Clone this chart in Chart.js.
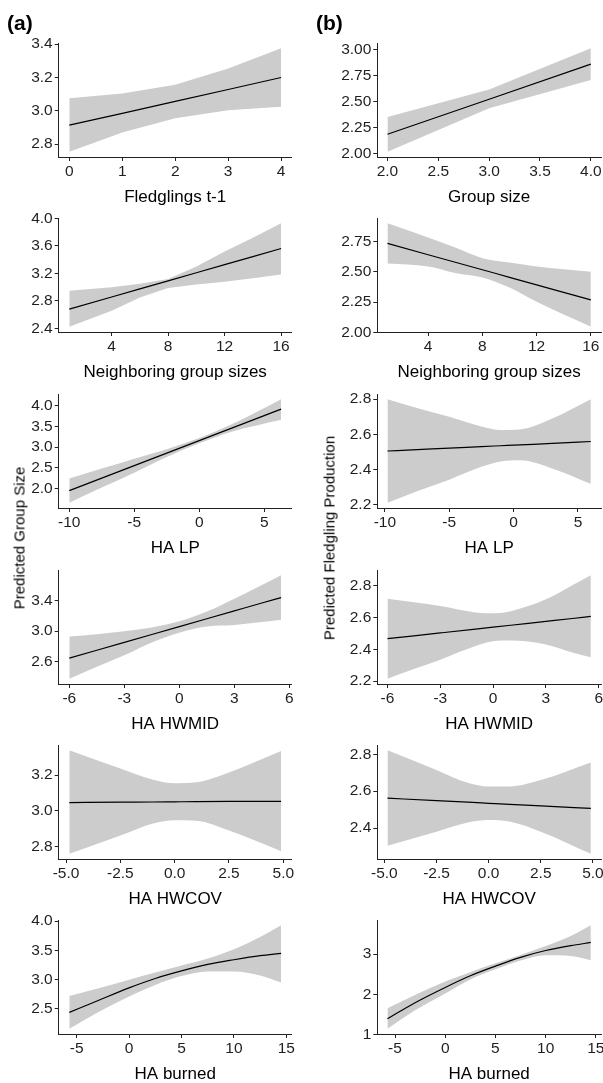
<!DOCTYPE html>
<html>
<head>
<meta charset="utf-8">
<script src="https://cdn.jsdelivr.net/npm/chart.js@4"></script>
<style>
  html, body { margin: 0; padding: 0; background: #fff; overflow: hidden; }
  #page { position: absolute; left: 0; top: 0; width: 603px; height: 1083px; }
  canvas { position: absolute; }
  .tag { position: absolute; font: bold 21px "Liberation Sans", Arial, sans-serif; line-height: 1; color: #000; }
  .ylab { position: absolute; font: 15px "Liberation Sans", Arial, sans-serif; color: #000; white-space: nowrap;
          transform: translate(-50%, -50%) rotate(-90deg); }
</style>
</head>
<body>
<div id="page"></div>
<script>
// (a) predicted group size
const a1X = [0, 1, 2, 3, 4];
const a1Fit = [2.914, 2.985, 3.057, 3.128, 3.2];
const a1Lo = [2.754, 2.87, 2.956, 3.004, 3.024];
const a1Hi = [3.076, 3.104, 3.156, 3.254, 3.376];
const a1XTicks = ['0', '1', '2', '3', '4'];
const a1YTicks = ['2.8', '3.0', '3.2', '3.4'];

const a2X = [1, 4, 6, 8, 10, 12, 14, 16];
const a2Fit = [2.681, 2.858, 2.975, 3.093, 3.211, 3.329, 3.446, 3.564];
const a2Lo = [2.424, 2.657, 2.85, 2.99, 3.04, 3.08, 3.13, 3.185];
const a2Hi = [2.948, 3.0, 3.05, 3.12, 3.3, 3.52, 3.72, 3.932];
const a2XTicks = ['4', '8', '12', '16'];
const a2YTicks = ['2.4', '2.8', '3.2', '3.6', '4.0'];

const a3X = [-10, -7.5, -5, -2.5, 0, 2.5, 6.3];
const a3Fit = [1.944, 2.247, 2.55, 2.853, 3.156, 3.459, 3.92];
const a3Lo = [1.65, 2.02, 2.38, 2.76, 3.09, 3.37, 3.66];
const a3Hi = [2.24, 2.48, 2.72, 2.95, 3.22, 3.55, 4.16];
const a3XTicks = ['-10', '-5', '0', '5'];
const a3YTicks = ['2.0', '2.5', '3.0', '3.5', '4.0'];

const a4X = [-6, -4.5, -3, -1.5, 0, 1.5, 3, 4.5, 5.55];
const a4Fit = [2.644, 2.748, 2.852, 2.956, 3.06, 3.164, 3.268, 3.372, 3.444];
const a4Lo = [2.37, 2.53, 2.68, 2.85, 2.98, 3.06, 3.08, 3.12, 3.15];
const a4Hi = [2.93, 2.96, 3.0, 3.05, 3.13, 3.26, 3.43, 3.61, 3.74];
const a4XTicks = ['-6', '-3', '0', '3', '6'];
const a4YTicks = ['2.6', '3.0', '3.4'];

const a5X = [-4.85, -2.5, -1, 0, 1, 2.5, 4.9];
const a5Fit = [3.047, 3.049, 3.05, 3.051, 3.052, 3.053, 3.054];
const a5Lo = [2.76, 2.862, 2.93, 2.948, 2.945, 2.89, 2.775];
const a5Hi = [3.34, 3.238, 3.175, 3.155, 3.16, 3.215, 3.335];
const a5XTicks = ['-5.0', '-2.5', '0.0', '2.5', '5.0'];
const a5YTicks = ['2.8', '3.0', '3.2'];

const a6X = [-5.7, -3, 0, 2.5, 5, 7.5, 10, 12.5, 14.5];
const a6Fit = [2.44, 2.64, 2.86, 3.02, 3.15, 3.26, 3.34, 3.41, 3.45];
const a6Lo = [2.16, 2.44, 2.71, 2.91, 3.06, 3.14, 3.14, 3.07, 2.95];
const a6Hi = [2.72, 2.85, 3.0, 3.12, 3.24, 3.36, 3.52, 3.73, 3.93];
const a6XTicks = ['-5', '0', '5', '10', '15'];
const a6YTicks = ['2.5', '3.0', '3.5', '4.0'];

// (b) predicted fledgling production
const b1X = [2, 3, 4];
const b1Fit = [2.184, 2.52, 2.857];
const b1Lo = [2.016, 2.435, 2.705];
const b1Hi = [2.349, 2.613, 3.01];
const b1XTicks = ['2.0', '2.5', '3.0', '3.5', '4.0'];
const b1YTicks = ['2.00', '2.25', '2.50', '2.75', '3.00'];

const b2X = [1, 4, 6, 8, 10, 12, 16];
const b2Fit = [2.734, 2.641, 2.579, 2.517, 2.455, 2.393, 2.269];
const b2Lo = [2.569, 2.544, 2.49, 2.453, 2.37, 2.253, 2.047];
const b2Hi = [2.901, 2.783, 2.70, 2.613, 2.577, 2.544, 2.5];
const b2XTicks = ['4', '8', '12', '16'];
const b2YTicks = ['2.00', '2.25', '2.50', '2.75'];

const b3X = [-9.8, -7.5, -5, -2.5, -1, 0.5, 3, 6];
const b3Fit = [2.505, 2.513, 2.521, 2.53, 2.535, 2.54, 2.548, 2.559];
const b3Lo = [2.21, 2.276, 2.342, 2.415, 2.445, 2.452, 2.406, 2.318];
const b3Hi = [2.8, 2.75, 2.7, 2.645, 2.625, 2.628, 2.69, 2.8];
const b3XTicks = ['-10', '-5', '0', '5'];
const b3YTicks = ['2.2', '2.4', '2.6', '2.8'];

const b4X = [-6, -4.5, -3, -1, 0, 1, 3, 4.5, 5.55];
const b4Fit = [2.466, 2.484, 2.502, 2.526, 2.538, 2.55, 2.574, 2.592, 2.606];
const b4Lo = [2.215, 2.276, 2.335, 2.42, 2.45, 2.455, 2.43, 2.38, 2.35];
const b4Hi = [2.716, 2.693, 2.67, 2.63, 2.625, 2.638, 2.712, 2.8, 2.863];
const b4XTicks = ['-6', '-3', '0', '3', '6'];
const b4YTicks = ['2.2', '2.4', '2.6', '2.8'];

const b5X = [-4.85, -2.5, -1, 0, 1, 2.5, 4.9];
const b5Fit = [2.562, 2.548, 2.54, 2.534, 2.528, 2.52, 2.506];
const b5Lo = [2.304, 2.38, 2.43, 2.443, 2.435, 2.38, 2.26];
const b5Hi = [2.822, 2.715, 2.645, 2.625, 2.625, 2.66, 2.755];
const b5XTicks = ['-5.0', '-2.5', '0.0', '2.5', '5.0'];
const b5YTicks = ['2.4', '2.6', '2.8'];

const b6X = [-5.75, -3, 0, 2.5, 5, 7.5, 10, 12.5, 14.5];
const b6Fit = [1.39, 1.79, 2.17, 2.46, 2.7, 2.92, 3.09, 3.21, 3.29];
const b6Lo = [1.14, 1.6, 2.02, 2.37, 2.62, 2.84, 2.97, 2.95, 2.85];
const b6Hi = [1.65, 1.98, 2.32, 2.55, 2.77, 2.98, 3.2, 3.45, 3.72];
const b6XTicks = ['-5', '0', '5', '10', '15'];
const b6YTicks = ['1', '2', '3'];

const rowTitles = ['Neighboring group sizes', 'HA LP', 'HA HWMID', 'HA HWCOV', 'HA burned'];

// Layout
const ROW_TOP = [43, 218.3, 394.3, 570, 745, 920];
const PLOT_H = 114.5;
const PAD_TOP = 14;
const XAXIS_H = 51;
const COLS = [
  { left: 0, width: 300, plotLeft: 58.7, plotRight: 291.7 },
  { left: 300, width: 316, plotLeft: 377.3, plotRight: 601 }
];
const FONT = '"Liberation Sans", Arial, sans-serif';
const BAND = '#cccccc';
const AXIS = '#222222';

// ggplot default expansion of 5% each side
function expand(vals) {
  const lo = Math.min(...vals), hi = Math.max(...vals);
  const d = (hi - lo) * 0.05;
  return [lo - d, hi + d];
}

const panels = [
  { col: 0, row: 0, title: 'Fledglings t-1', x: a1X, fit: a1Fit, lo: a1Lo, hi: a1Hi, xt: a1XTicks, yt: a1YTicks, smooth: false },
  { col: 1, row: 0, title: 'Group size', x: b1X, fit: b1Fit, lo: b1Lo, hi: b1Hi, xt: b1XTicks, yt: b1YTicks, smooth: false },
  { col: 0, row: 1, title: rowTitles[0], x: a2X, fit: a2Fit, lo: a2Lo, hi: a2Hi, xt: a2XTicks, yt: a2YTicks, smooth: false },
  { col: 1, row: 1, title: rowTitles[0], x: b2X, fit: b2Fit, lo: b2Lo, hi: b2Hi, xt: b2XTicks, yt: b2YTicks, smooth: true },
  { col: 0, row: 2, title: rowTitles[1], x: a3X, fit: a3Fit, lo: a3Lo, hi: a3Hi, xt: a3XTicks, yt: a3YTicks, smooth: true },
  { col: 1, row: 2, title: rowTitles[1], x: b3X, fit: b3Fit, lo: b3Lo, hi: b3Hi, xt: b3XTicks, yt: b3YTicks, smooth: true },
  { col: 0, row: 3, title: rowTitles[2], x: a4X, fit: a4Fit, lo: a4Lo, hi: a4Hi, xt: a4XTicks, yt: a4YTicks, smooth: true },
  { col: 1, row: 3, title: rowTitles[2], x: b4X, fit: b4Fit, lo: b4Lo, hi: b4Hi, xt: b4XTicks, yt: b4YTicks, smooth: true },
  { col: 0, row: 4, title: rowTitles[3], x: a5X, fit: a5Fit, lo: a5Lo, hi: a5Hi, xt: a5XTicks, yt: a5YTicks, smooth: true },
  { col: 1, row: 4, title: rowTitles[3], x: b5X, fit: b5Fit, lo: b5Lo, hi: b5Hi, xt: b5XTicks, yt: b5YTicks, smooth: true },
  { col: 0, row: 5, title: rowTitles[4], x: a6X, fit: a6Fit, lo: a6Lo, hi: a6Hi, xt: a6XTicks, yt: a6YTicks, smooth: true },
  { col: 1, row: 5, title: rowTitles[4], x: b6X, fit: b6Fit, lo: b6Lo, hi: b6Hi, xt: b6XTicks, yt: b6YTicks, smooth: true }
];

const page = document.getElementById('page');

function pts(xs, ys) {
  return xs.map((x, i) => ({ x: x, y: ys[i] }));
}

panels.forEach(p => {
  const c = COLS[p.col];
  const canvas = document.createElement('canvas');
  canvas.width = c.width;
  canvas.height = PAD_TOP + PLOT_H + XAXIS_H;
  canvas.style.left = c.left + 'px';
  canvas.style.top = (ROW_TOP[p.row] - PAD_TOP) + 'px';
  page.appendChild(canvas);

  const xr = expand(p.x);
  const yr = expand(p.lo.concat(p.hi));
  const interp = p.smooth ? 'monotone' : 'default';

  // Chart.js paints the first dataset on top, so the fitted line comes first
  new Chart(canvas.getContext('2d'), {
    type: 'line',
    data: {
      datasets: [
        { data: pts(p.x, p.fit), fill: false, borderColor: '#000', borderWidth: 1.2, pointRadius: 0, cubicInterpolationMode: interp },
        { data: pts(p.x, p.hi), fill: '+1', backgroundColor: BAND, borderColor: 'rgba(0,0,0,0)', borderWidth: 0, pointRadius: 0, cubicInterpolationMode: interp },
        { data: pts(p.x, p.lo), fill: false, borderColor: 'rgba(0,0,0,0)', borderWidth: 0, pointRadius: 0, cubicInterpolationMode: interp }
      ]
    },
    options: {
      responsive: false,
      animation: false,
      events: [],
      layout: { padding: { top: PAD_TOP, left: 0, bottom: 0, right: c.left + c.width - c.plotRight } },
      plugins: { legend: { display: false }, tooltip: { enabled: false } },
      scales: {
        x: {
          type: 'linear',
          min: xr[0],
          max: xr[1],
          afterBuildTicks: s => { s.ticks = p.xt.map(t => ({ value: parseFloat(t) })); },
          afterFit: s => { s.height = XAXIS_H; },
          border: { display: true, color: AXIS, width: 1 },
          grid: { drawOnChartArea: false, drawTicks: true, tickLength: 4, color: AXIS },
          ticks: { autoSkip: false, maxRotation: 0, padding: 1.5, color: '#1f1f1f', font: { family: FONT, size: 15.5 },
                   callback: (v, i) => p.xt[i] },
          title: { display: true, text: p.title, color: '#000', padding: 0, font: { family: FONT, size: 17 } }
        },
        y: {
          type: 'linear',
          min: yr[0],
          max: yr[1],
          afterBuildTicks: s => { s.ticks = p.yt.map(t => ({ value: parseFloat(t) })); },
          afterFit: s => { s.width = c.plotLeft - c.left; },
          border: { display: true, color: AXIS, width: 1 },
          grid: { drawOnChartArea: false, drawTicks: true, tickLength: 4, color: AXIS },
          ticks: { autoSkip: false, padding: 2, color: '#1f1f1f', font: { family: FONT, size: 15.5 },
                   callback: (v, i) => p.yt[i] }
        }
      }
    }
  });
});

// panel tags and shared y titles
function addText(cls, text, x, y) {
  const d = document.createElement('div');
  d.className = cls;
  d.textContent = text;
  d.style.left = x + 'px';
  d.style.top = y + 'px';
  page.appendChild(d);
}
addText('tag', '(a)', 7, 12);
addText('tag', '(b)', 316, 12);
addText('ylab', 'Predicted Group Size', 19, 538);
addText('ylab', 'Predicted Fledgling Production', 329, 538);
</script>
</body>
</html>
